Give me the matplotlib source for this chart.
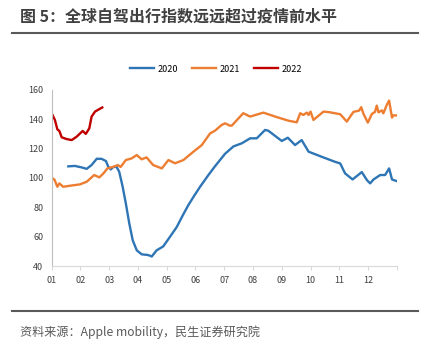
import numpy as np
import matplotlib
matplotlib.use("Agg")
import matplotlib.pyplot as plt
from matplotlib.lines import Line2D

plt.rcParams['font.family'] = ['Noto Sans CJK SC', 'DejaVu Sans']

# x positions are in months from Jan 1 (0 = start of Jan, 12 = end of Dec)
pos_2020 = [0.58, 0.81, 1.04, 1.22, 1.39, 1.57, 1.74, 1.89, 1.97, 2.06,
            2.14, 2.26, 2.35, 2.47, 2.58, 2.70, 2.82, 2.96, 3.13, 3.36,
            3.48, 3.65, 3.88, 4.11, 4.35, 4.56, 4.75, 4.93, 5.16, 5.45,
            5.68, 6.03, 6.32, 6.61, 6.90, 7.13, 7.42, 7.53, 7.77, 8.0,
            8.21, 8.46, 8.69, 8.93, 9.39, 9.85, 10.03, 10.2, 10.46, 10.78,
            10.96, 11.07, 11.19, 11.42, 11.59, 11.73, 11.83, 12.0]
val_2020 = [107.9, 108.2, 107.2, 106.2, 108.8, 113.1, 113.0, 111.5, 107.6, 105.8,
            107.5, 107.5, 104.2, 94, 82.6, 69, 57.5, 50.7, 48, 47.5,
            46.5, 50.7, 53.4, 59.8, 66.6, 74.6, 81.4, 87.1, 94, 102,
            108, 116.5, 121.5, 123.6, 127, 127, 132.7, 132.2, 128.6, 125.2,
            127.4, 122.4, 125.8, 117.9, 114.4, 111, 109.9, 103.1, 99, 104,
            98.5, 96.3, 99, 102, 102, 106.5, 99, 97.8]

pos_2021 = [0, 0.1, 0.2, 0.27, 0.4, 0.64, 0.98, 1.22, 1.48, 1.66,
            1.8, 1.94, 2.14, 2.3, 2.4, 2.58, 2.78, 2.96, 3.13, 3.3,
            3.53, 3.83, 4.06, 4.29, 4.58, 4.93, 5.22, 5.51, 5.68, 5.91,
            6.03, 6.2, 6.26, 6.66, 6.9, 7.36, 7.77, 8.23, 8.52, 8.64,
            8.75, 8.87, 8.93, 9.0, 9.1, 9.45, 9.68, 10.03, 10.26, 10.49,
            10.69, 10.76, 10.84, 10.99, 11.13, 11.24, 11.3, 11.36, 11.48, 11.53,
            11.65, 11.73, 11.83, 11.87, 12.0]
val_2021 = [100.1, 98.9, 94, 96.3, 94, 94.7, 95.6, 97.4, 102, 100.4,
            103.1, 106.5, 107.5, 108.8, 107.5, 112.2, 113.3, 115.6, 112.7, 114,
            108.8, 106.5, 112.2, 110, 112.2, 117.9, 122.4, 130.4, 132.2, 136.1,
            137.2, 135.6, 135.6, 144.1, 141.8, 144.5, 141.8, 139, 137.9, 144.1,
            142.9, 144.5, 142.9, 145.2, 139.5, 145.2, 144.7, 143.4, 138.4, 145,
            145.9, 148.2, 143.6, 137.7, 143.6, 145, 149.3, 144.7, 146, 144,
            149.8, 152.7, 141.1, 142.6, 142.6]

pos_2022 = [0, 0.115, 0.2, 0.27, 0.35, 0.52, 0.70, 0.87, 1.08, 1.19,
            1.31, 1.39, 1.51, 1.65, 1.76]
val_2022 = [144.1, 139.5, 133.1, 132, 127.7, 126.5, 125.8, 128.1, 132, 130,
            133.8, 141.8, 145.2, 146.8, 148]

month_labels = ['01', '02', '03', '04', '05', '06', '07', '08', '09', '10', '11', '12']

fig = plt.figure(figsize=(4.3, 3.51), dpi=100)
ax = fig.add_axes([0.120, 0.242, 0.803, 0.502])

ax.plot(pos_2020, val_2020, color='#2E75B6', lw=1.7, label='2020')
ax.plot(pos_2021, val_2021, color='#ED7D31', lw=1.7, label='2021')
ax.plot(pos_2022, val_2022, color='#C00000', lw=1.7, label='2022')

ax.set_xlim(0, 12)
ax.set_ylim(40, 160)
ax.set_yticks(range(40, 161, 20))
ax.set_xticks(range(13))
ax.set_xticklabels(month_labels + [''])
ax.tick_params(axis='x', length=3, color='#d9d9d9', labelsize=6.5, labelcolor='#404040', pad=4)
ax.tick_params(axis='y', length=0, labelsize=6.5, labelcolor='#404040', pad=6)
for s in ['top', 'right']:
    ax.spines[s].set_visible(False)
ax.spines['left'].set_color('#bfbfbf')
ax.spines['bottom'].set_color('#d9d9d9')

fig.legend(loc='center', bbox_to_anchor=(0.502, 0.803), ncol=3, frameon=False,
           fontsize=6.5, handlelength=2.6, columnspacing=1.6, handletextpad=0.4)

fig.text(0.047, 0.952, '图 5：全球自驾出行指数远远超过疫情前水平', fontsize=11.5,
         fontweight='bold', color='#404040', va='center', ha='left')
fig.add_artist(Line2D([0.028, 0.972], [0.906, 0.906], color='#595959', lw=1.5))
fig.add_artist(Line2D([0.028, 0.972], [0.114, 0.114], color='#595959', lw=1.5))
fig.text(0.047, 0.054, '资料来源：Apple mobility，民生证券研究院', fontsize=8.7,
         color='#595959', va='center', ha='left')

fig.savefig('out.png', dpi=100)
